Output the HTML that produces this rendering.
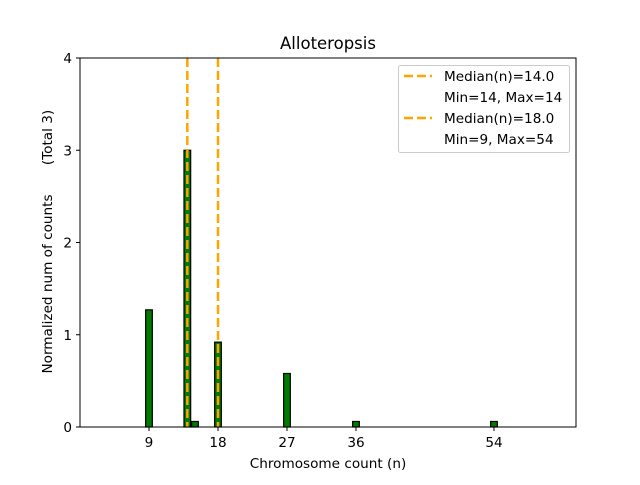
<!DOCTYPE html>
<html><head><meta charset="utf-8"><style>
body{margin:0;background:#fff}
svg text{font-family:"DejaVu Sans","Liberation Sans",sans-serif;fill:#000}
</style></head><body>
<svg id="chart" width="640" height="480" viewBox="0 0 640 480">
<rect x="0" y="0" width="640" height="480" fill="#fff"/>
<g id="bars"></g>
<g id="medians"></g>
<rect x="80" y="58" width="496" height="369" fill="none" stroke="#000" stroke-width="1"/>
<g id="xticks"></g>
<g id="yticks"></g>
<text x="328" y="49" font-size="16.5" text-anchor="middle">Alloteropsis</text>
<text x="328" y="468" font-size="13.6" text-anchor="middle">Chromosome count (n)</text>
<text transform="translate(52,284) rotate(-90)" font-size="13.6" text-anchor="middle">Normalized num of counts</text>
<text transform="translate(52,137.5) rotate(-90)" font-size="13.6" text-anchor="middle">(Total 3)</text>
<g>
<rect x="398.5" y="65.5" width="171" height="87" rx="2" fill="#fff" fill-opacity="0.8" stroke="#ccc"/>
<line x1="404" y1="76" x2="432" y2="76" stroke="#ffa500" stroke-width="2.5" stroke-dasharray="9,4"/>
<text x="444" y="81" font-size="13.6">Median(n)=14.0</text>
<text x="444" y="102" font-size="13.6">Min=14, Max=14</text>
<line x1="404" y1="118" x2="432" y2="118" stroke="#ffa500" stroke-width="2.5" stroke-dasharray="9,4"/>
<text x="444" y="123" font-size="13.6">Median(n)=18.0</text>
<text x="444" y="144" font-size="13.6">Min=9, Max=54</text>
</g>
</svg>
<script>
const binValues = [9, 14, 15, 18, 27, 36, 54];
const binHeights = [1.27, 3.0, 0.06, 0.92, 0.58, 0.06, 0.06];
const medianValues = [14, 18];
const xTickValues = [9, 18, 27, 36, 54];
const yTickValues = [0, 1, 2, 3, 4];
const binWidth = 0.87;

const NS = "http://www.w3.org/2000/svg";
const X0 = 80, X1 = 576, Y0 = 427, Y1 = 58;
const xMin = 0, xMax = 64.7, yMin = 0, yMax = 4;
function xs(v){return X0 + (v - xMin) / (xMax - xMin) * (X1 - X0);}
function ys(v){return Y0 - (v - yMin) / (yMax - yMin) * (Y0 - Y1);}
function mk(tag, attrs){const e=document.createElementNS(NS,tag);for(const k in attrs)e.setAttribute(k,attrs[k]);return e;}

const bars = document.getElementById('bars');
binValues.forEach((v,i)=>{
  const x1 = xs(v - binWidth/2), x2 = xs(v + binWidth/2);
  const r = mk('rect',{x:x1,y:ys(binHeights[i]),width:x2-x1,height:ys(0)-ys(binHeights[i]),fill:'#007a00',stroke:'#000','stroke-width':1.2});
  
  
  bars.appendChild(r);
});

const med = document.getElementById('medians');
medianValues.forEach(m=>{
  const l = mk('line',{x1:xs(m),x2:xs(m),y1:ys(yMax),y2:ys(0),stroke:'#ffa500','stroke-width':2.5,'stroke-dasharray':'9,4'});
  
  
  med.appendChild(l);
});

const xt = document.getElementById('xticks');
xTickValues.forEach(v=>{
  const l = mk('line',{x1:xs(v),x2:xs(v),y1:Y0,y2:Y0+4,stroke:'#000'});
  
  
  xt.appendChild(l);
  const t = mk('text',{x:xs(v),y:Y0+20,'font-size':13.6,'text-anchor':'middle'});
  t.textContent = v;
  
  
  xt.appendChild(t);
});

const yt = document.getElementById('yticks');
yTickValues.forEach(v=>{
  const l = mk('line',{x1:X0-4,x2:X0,y1:ys(v),y2:ys(v),stroke:'#000'});
  
  
  yt.appendChild(l);
  const t = mk('text',{x:X0-8,y:ys(v)+5,'font-size':13.6,'text-anchor':'end'});
  t.textContent = v;
  
  
  yt.appendChild(t);
});
</script>
</body></html>
